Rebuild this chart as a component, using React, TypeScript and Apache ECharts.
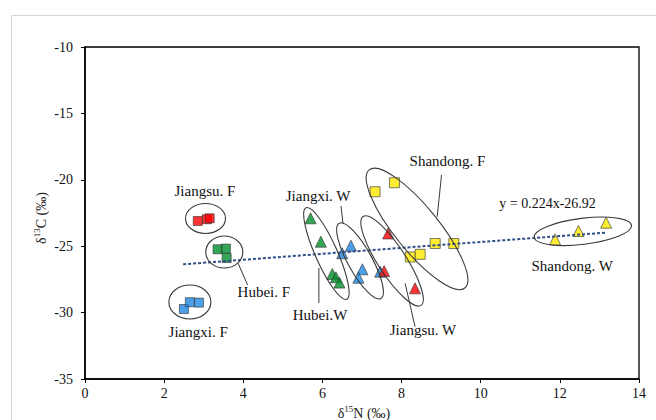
import React, { useEffect, useRef } from "react";
import * as echarts from "echarts";

// ---- data (x = δ15N ‰, y = δ13C ‰) ----
const jiangsuF = [[2.85, -23.1], [3.08, -22.97], [3.15, -22.9]];
const hubeiF = [[3.35, -25.23], [3.56, -25.18], [3.58, -25.89]];
const jiangxiF = [[2.5, -29.73], [2.65, -29.22], [2.88, -29.25]];
const hubeiW = [[5.7, -22.9], [5.96, -24.66], [6.25, -27.09], [6.34, -27.34], [6.43, -27.74]];
const jiangxiW = [[6.5, -25.53], [6.72, -24.96], [7.01, -26.74], [6.91, -27.37], [7.46, -26.92]];
const jiangsuW = [[7.66, -24.04], [7.56, -26.87], [8.34, -28.17]];
const shandongF = [[7.33, -20.9], [7.82, -20.22], [8.22, -25.81], [8.47, -25.61], [8.85, -24.8], [9.32, -24.8]];
const shandongW = [[11.88, -24.48], [12.47, -23.86], [13.17, -23.23]];
const trendLine = [[2.48, -26.36], [13.19, -23.97]];
const equationText = "y = 0.224x-26.92";

const xTicks = { min: 0, max: 14, interval: 2 };
const yTicks = { min: -35, max: -10, interval: 5 };

// group labels (text, anchor in data space)
const groupLabels: [string, number, number][] = [
  ["Jiangsu. F", 3.03, -20.84],
  ["Hubei. F", 4.52, -28.45],
  ["Jiangxi. F", 2.86, -31.46],
  ["Jiangxi. W", 5.89, -21.22],
  ["Hubei.W", 5.94, -30.18],
  ["Jiangsu. W", 8.54, -31.31],
  ["Shandong. F", 9.16, -18.58],
  ["Shandong. W", 12.31, -26.49],
];

// ellipses: center (data), semi-axes (px), rotation (deg, anticlockwise)
const ellipses: [number, number, number, number, number][] = [
  [3.045, -22.91, 20, 15, 0],
  [3.52, -25.44, 18.5, 16, 0],
  [2.65, -29.2, 21, 17, 0],
  [6.1, -25.55, 11, 50, 24],
  [6.95, -26.11, 12, 43, 29],
  [7.76, -26.11, 14, 53, 33],
  [8.39, -23.7, 22, 76, 39],
  [12.58, -23.88, 49, 13, 7],
];

// leader lines (data space)
const leaders: [number, number, number, number][] = [
  [6.47, -21.97, 6.52, -23.33],
  [5.91, -26.64, 5.91, -29.28],
  [8.09, -27.8, 8.34, -31.06],
  [9.01, -19.64, 8.9, -22.78],
  [3.87, -26.29, 4.11, -27.92],
];

const RED = "#ff0000";
const GREEN = "#00902a";
const BLUE = "#1f88e5";
const YELLOW = "#ffe800";
const SERIF = "Liberation Serif";

function scatter(name: string, data: number[][], color: string, symbol: string, size: number) {
  return {
    name,
    type: "scatter",
    data,
    symbol,
    symbolSize: size,
    itemStyle: { color, borderColor: "#333", borderWidth: 0.8 },
    z: 3,
  };
}

function txt(text: string, x: number, y: number, size: number, extra: any = {}) {
  return {
    type: "text",
    x,
    y,
    ...extra,
    style: {
      text,
      fontFamily: SERIF,
      fontSize: size,
      fill: "#111",
      align: "center",
      verticalAlign: "middle",
      ...(extra.style || {}),
    },
    z: 100,
    silent: true,
  };
}

export default function App() {
  const ref = useRef<HTMLDivElement>(null);
  useEffect(() => {
    const chart = echarts.init(ref.current!, null, { renderer: "svg" });
    chart.setOption({
      animation: false,
      backgroundColor: "#fff",
      textStyle: { fontFamily: SERIF },
      grid: { left: 85, top: 47, width: 554, height: 332, show: true, borderColor: "#000", borderWidth: 1.3, backgroundColor: "transparent" },
      xAxis: {
        type: "value",
        ...xTicks,
        axisLine: { onZero: false, lineStyle: { color: "#000", width: 1.5 } },
        axisTick: { show: true, length: 4, lineStyle: { color: "#000" } },
        axisLabel: { color: "#111", fontFamily: SERIF, fontSize: 14, margin: 7 },
        splitLine: { show: false },
      },
      yAxis: {
        type: "value",
        ...yTicks,
        axisLine: { show: true, onZero: false, lineStyle: { color: "#000", width: 1.5 } },
        axisTick: { show: true, length: 4, lineStyle: { color: "#000" } },
        axisLabel: { color: "#111", fontFamily: SERIF, fontSize: 14, margin: 12 },
        splitLine: { show: false },
      },
      series: [
        scatter("Jiangsu. F", jiangsuF, RED, "rect", 9),
        scatter("Hubei. F", hubeiF, GREEN, "rect", 9),
        scatter("Jiangxi. F", jiangxiF, BLUE, "rect", 9),
        scatter("Hubei. W", hubeiW, GREEN, "triangle", 11),
        scatter("Jiangxi. W", jiangxiW, BLUE, "triangle", 11),
        scatter("Jiangsu. W", jiangsuW, RED, "triangle", 11),
        scatter("Shandong. F", shandongF, YELLOW, "rect", 10),
        scatter("Shandong. W", shandongW, YELLOW, "triangle", 11),
        {
          name: "trend",
          type: "line",
          data: trendLine,
          symbol: "none",
          lineStyle: { color: "#2f4f8a", width: 2, type: [3, 2] },
          z: 10,
        },
      ],
    });

    const p = (x: number, y: number) => chart.convertToPixel({ gridIndex: 0 }, [x, y]) as number[];
    const graphics: any[] = [];
    graphics.push({
      type: "rect",
      shape: { x: 11.5, y: 15.5, width: 700, height: 500 },
      style: { fill: "none", stroke: "#d6d6d6", lineWidth: 1 },
      z: 0,
      silent: true,
    });
    ellipses.forEach(([cx, cy, rx, ry, rot]) => {
      const c = p(cx, cy);
      graphics.push({
        type: "ellipse",
        x: c[0],
        y: c[1],
        rotation: (rot * Math.PI) / 180,
        shape: { cx: 0, cy: 0, rx, ry },
        style: { fill: "none", stroke: "#3a3a3a", lineWidth: 1.1 },
        z: 100,
        silent: true,
      });
    });
    leaders.forEach(([x1, y1, x2, y2]) => {
      const a = p(x1, y1);
      const b = p(x2, y2);
      graphics.push({
        type: "line",
        shape: { x1: a[0], y1: a[1], x2: b[0], y2: b[1] },
        style: { stroke: "#3a3a3a", lineWidth: 1 },
        z: 100,
        silent: true,
      });
    });
    groupLabels.forEach(([t, x, y]) => {
      const c = p(x, y);
      graphics.push(txt(t, c[0], c[1], 15));
    });
    const eq = p(11.69, -21.75);
    graphics.push(txt(equationText, eq[0], eq[1], 14));
    // axis titles
    const midX = p(7, -35)[0];
    const midY = p(0, -22.5)[1];
    const rich = {
      n: { fontFamily: SERIF, fontSize: 14, fill: "#222", lineHeight: 16, verticalAlign: "bottom" },
      s: { fontFamily: SERIF, fontSize: 9, fill: "#222", lineHeight: 16, verticalAlign: "top" },
    };
    graphics.push(txt("{n|δ}{s|15}{n|N (‰)}", midX + 2, 412, 14, { style: { rich } }));
    graphics.push(txt("{n|δ}{s|13}{n|C (‰)}", 40, midY + 5, 14, { rotation: Math.PI / 2, style: { rich } }));
    chart.setOption({ graphic: graphics });
    return () => chart.dispose();
  }, []);
  return (
    <div
      ref={ref}
      style={{ position: "fixed", left: 0, top: 0, width: 656, height: 420, background: "#fff" }}
    />
  );
}
